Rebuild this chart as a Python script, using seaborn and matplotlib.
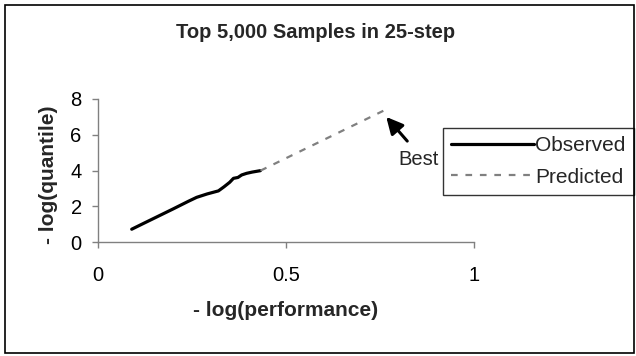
import matplotlib
matplotlib.use("Agg")
import matplotlib.pyplot as plt
import seaborn as sns
import pandas as pd
from matplotlib.patches import Rectangle

# Data
obs_x = [0.089, 0.12, 0.16, 0.20, 0.24, 0.262, 0.29, 0.320, 0.335, 0.35, 0.36, 0.372, 0.382, 0.395, 0.41, 0.432]
obs_y = [0.73, 1.05, 1.46, 1.87, 2.29, 2.51, 2.70, 2.87, 3.10, 3.35, 3.57, 3.62, 3.76, 3.85, 3.92, 4.00]
pred_x = [0.432, 0.768]
pred_y = [4.00, 7.43]
xticks = [0, 0.5, 1]
yticks = [0, 2, 4, 6, 8]
title = "Top 5,000 Samples in 25-step"
xlabel = "- log(performance)"
ylabel = "- log(quantile)"

sns.set_style("white")
plt.rcParams['font.family'] = ['Liberation Sans', 'DejaVu Sans']

fig = plt.figure(figsize=(6.36, 3.56), dpi=100)
W, H = 636, 356
ax = fig.add_axes([98.3 / W, 1 - 242.3 / H, 375.4 / W, 143.3 / H])

obs = pd.DataFrame({"x": obs_x, "y": obs_y})
pred = pd.DataFrame({"x": pred_x, "y": pred_y})
sns.lineplot(data=obs, x="x", y="y", ax=ax, sort=False, color="black", lw=2.3,
             label="Observed", solid_capstyle="round")
sns.lineplot(data=pred, x="x", y="y", ax=ax, sort=False, color="#808080", lw=1.6,
             label="Predicted", dashes=False, linestyle=(0, (3, 3.5)))

ax.set_xlim(0, 1)
ax.set_ylim(0, 8)
ax.set_xticks(xticks)
ax.set_xticklabels([str(t) for t in xticks])
ax.set_yticks(yticks)
for s in ["top", "right"]:
    ax.spines[s].set_visible(False)
for s in ["left", "bottom"]:
    ax.spines[s].set_color("#808080")
    ax.spines[s].set_linewidth(1.0)
ax.tick_params(axis="both", direction="out", length=4, width=1, color="#808080",
               labelsize=14.5, labelcolor="black", left=True, bottom=True)
ax.tick_params(axis="x", pad=13)
ax.tick_params(axis="y", pad=8)
ax.set_xlabel(xlabel, fontsize=15, fontweight="bold")
ax.set_ylabel(ylabel, fontsize=15, fontweight="bold")
ax.xaxis.label.set_va("center")
ax.yaxis.label.set_va("center")
ax.xaxis.set_label_coords((286 - 98.3) / 375.4, (242.3 - 310) / 143.3)
ax.yaxis.set_label_coords((48 - 98.3) / 375.4, (242.3 - 175) / 143.3)

# Arrow + "Best" annotation
ax.annotate("", xy=(0.767, 7.0), xytext=(0.823, 5.65),
            arrowprops=dict(arrowstyle="-|>,head_length=1.0,head_width=0.5",
                            color="black", lw=2.2, shrinkA=0, shrinkB=0))
ax.text(0.854, 4.65, "Best", fontsize=14.5, ha="center", va="center")

fig.text(316 / W, 1 - 33 / H, title, fontsize=14.5, fontweight="bold",
         ha="center", va="center")

leg = ax.legend(loc="upper right", bbox_to_anchor=(634 / W, 1 - 127.7 / H),
                bbox_transform=fig.transFigure, borderaxespad=0, fontsize=15,
                frameon=True, fancybox=False, handlelength=4.0, handletextpad=0.05,
                labelspacing=0.6, borderpad=0.4)
leg.get_frame().set_edgecolor("black")
leg.get_frame().set_linewidth(1.0)

# Outer chart border
fig.patches.append(Rectangle((5 / W, 3 / H), 629 / W, 348 / H, transform=fig.transFigure,
                             fill=False, edgecolor="black", lw=1.2))

fig.savefig("out.png", dpi=100)
